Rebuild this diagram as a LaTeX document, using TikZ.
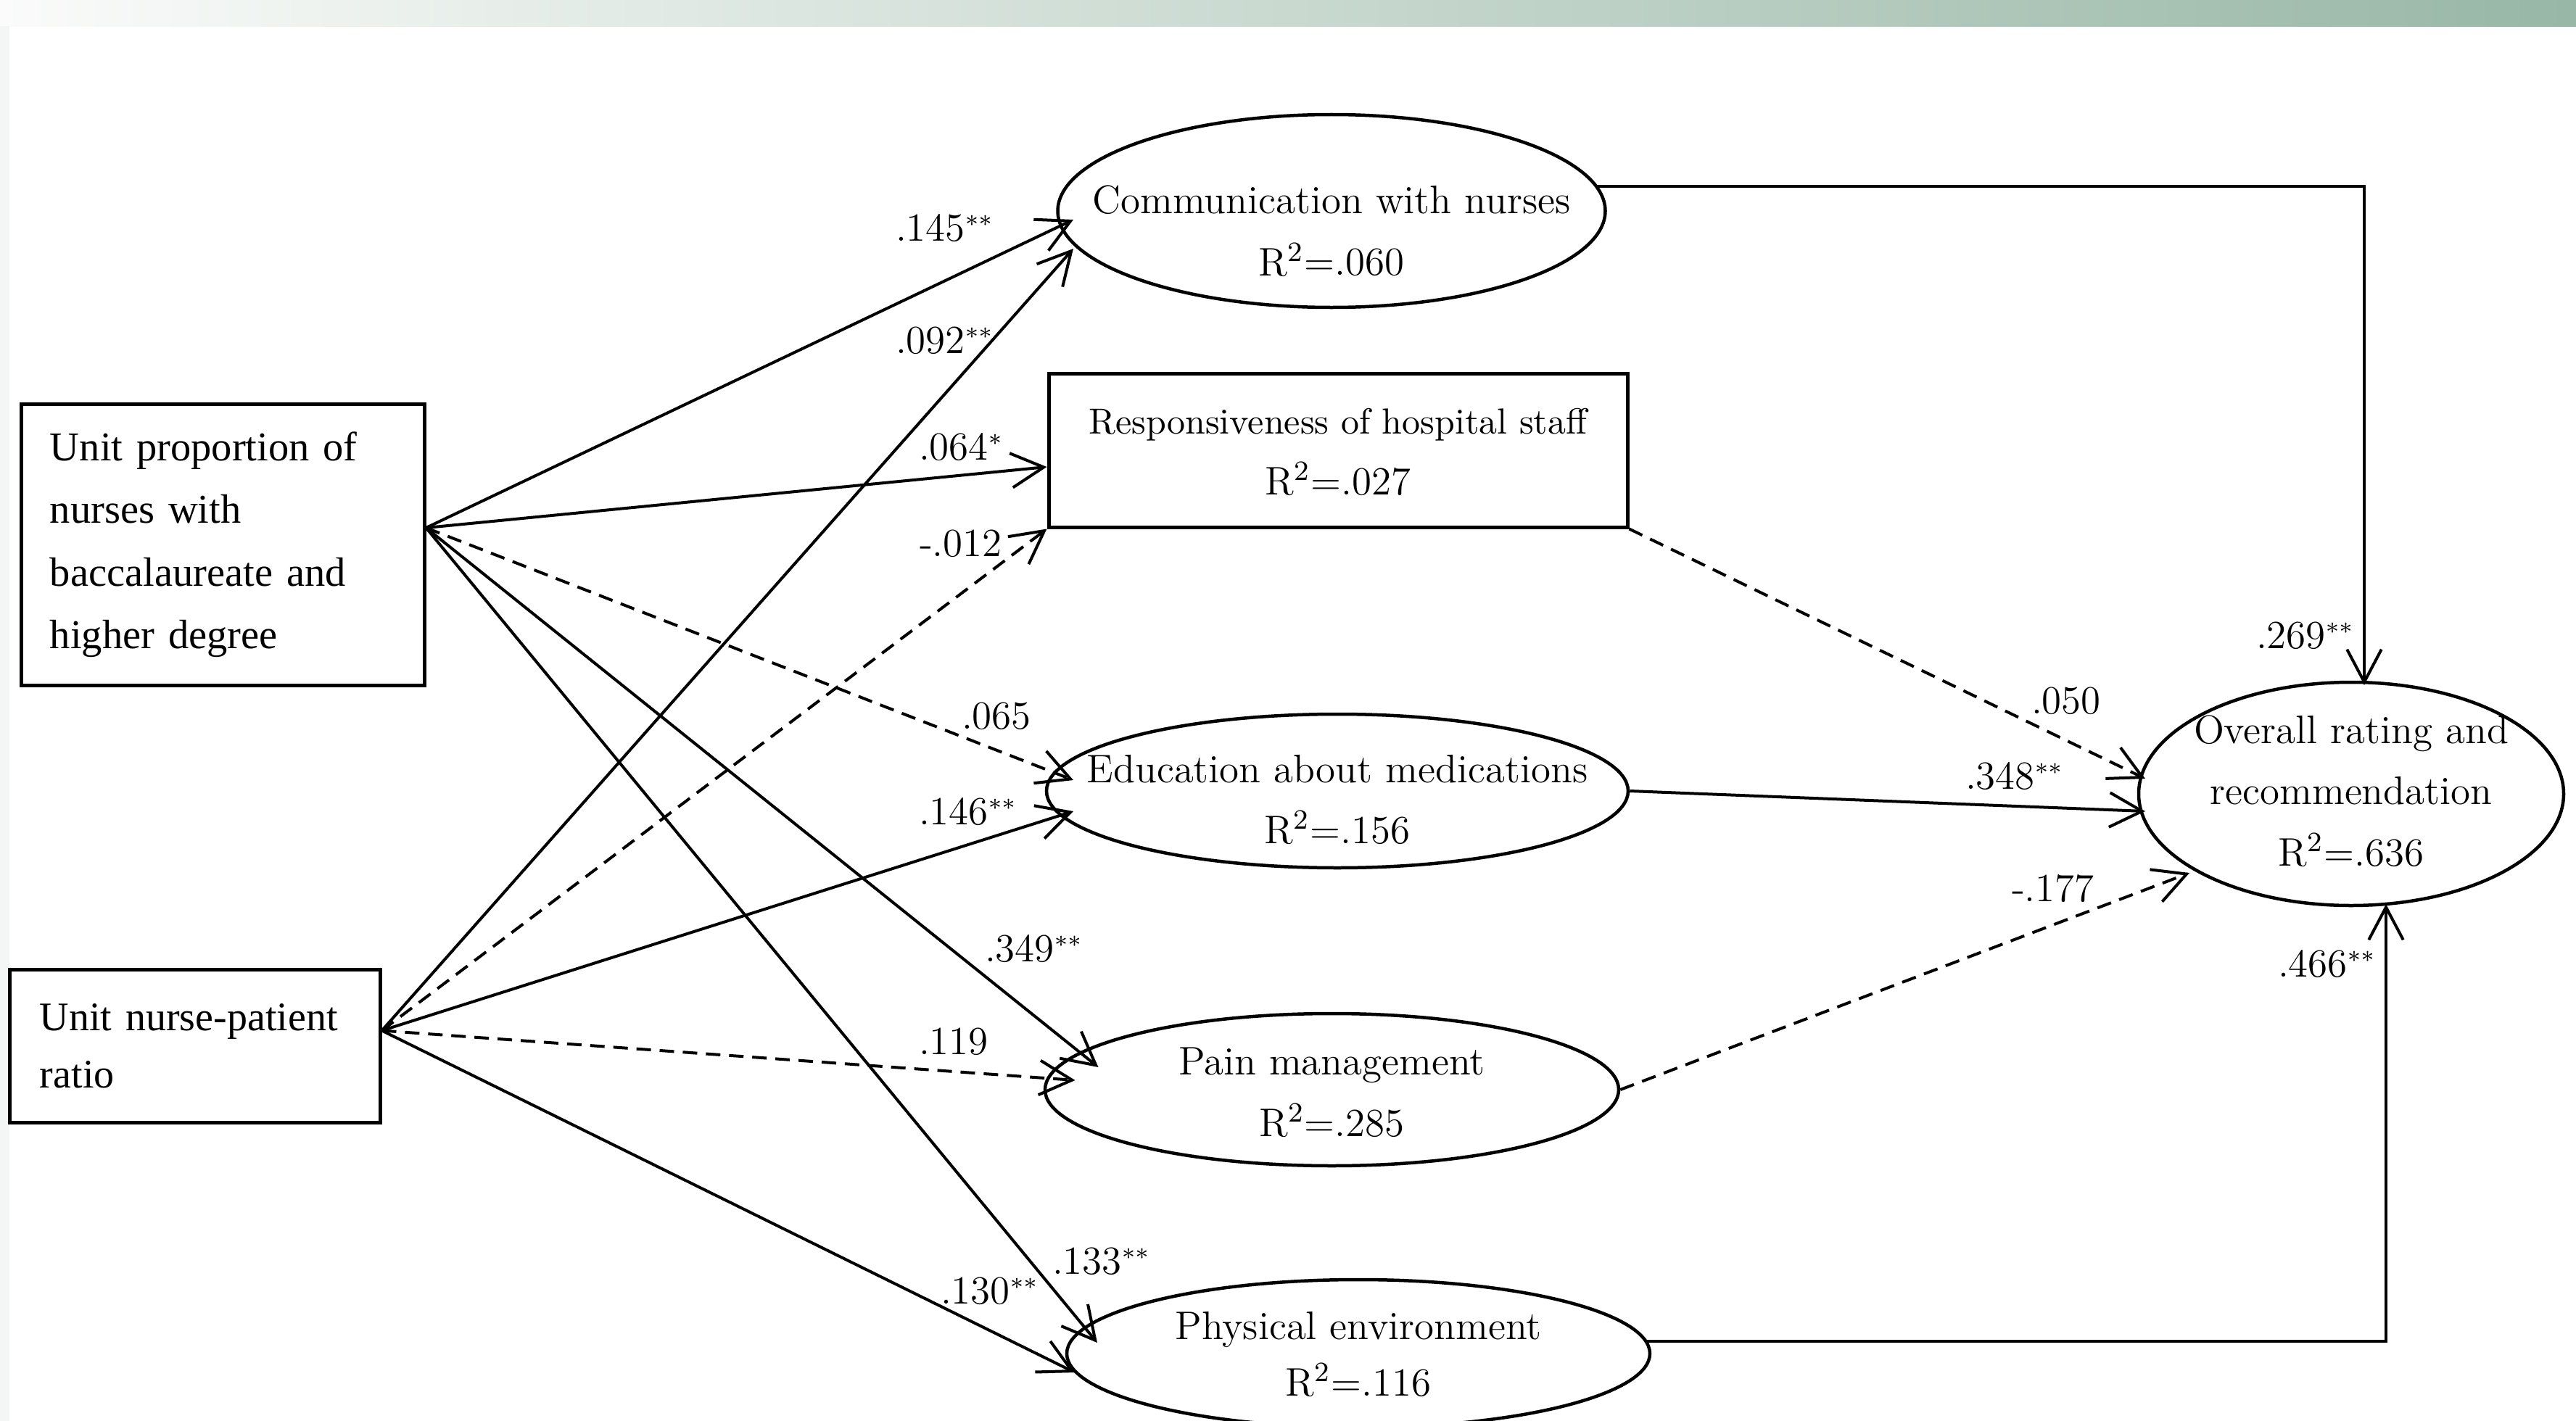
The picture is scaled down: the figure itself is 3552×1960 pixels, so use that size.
\documentclass[tikz,border=0pt]{standalone}
\usepackage{fontspec}
\newfontfamily\timesf{Liberation Serif}
\usetikzlibrary{arrows.meta,shapes.geometric,calc}
\definecolor{barL}{RGB}{250,251,250}
\definecolor{barR}{RGB}{152,183,166}
\definecolor{stripC}{RGB}{244,246,245}
\newcommand\intext[3]{\makebox[0pt]{\raisebox{#1}[0pt][0pt]{\fontsize{11}{#2}\selectfont\begin{tabular}[b]{@{}c@{}}#3\end{tabular}}}}
\newcommand\sig[1]{\raisebox{2.2pt}{\fontsize{6.5}{7}\selectfont #1}}
\begin{document}
\begin{tikzpicture}[x=0.2pt,y=-0.2pt,
  box/.style={draw,line width=1pt,rectangle},
  ell/.style={draw,line width=0.9pt,ellipse,inner sep=0pt},
  lab/.style={inner sep=0pt,anchor=base west,font=\fontsize{11}{13}\selectfont},
  arr/.style={line width=0.8pt,-{Straight Barb[length=9pt,width=9.5pt]}},
  dsh/.style={dash pattern=on 4pt off 2.4pt}]
\useasboundingbox (0,0) rectangle (3552,1960);
\fill[left color=barL,right color=barR] (0,0) rectangle (3552,36);
\fill[stripC] (0,36) rectangle (13,1960);

% exogenous boxes
\node[box,text width=95.4pt,inner xsep=7.8pt,inner ysep=0pt,minimum height=77.6pt,align=left,
  font=\timesf\fontsize{11.3}{17.3}\selectfont] (b1) at (307.5,751)
  {Unit proportion of\\ nurses with\\ baccalaureate and\\ higher degree};
\node[box,text width=85.6pt,inner xsep=8.2pt,inner ysep=0pt,minimum height=42.2pt,align=left,
  font=\timesf\fontsize{11.2}{15.8}\selectfont] (b2) at (269,1442.5)
  {Unit nurse-patient\\ ratio};

% mediators
\node[ell,minimum width=151pt,minimum height=53.2pt] (comm) at (1836,291)
  {\intext{-17.8pt}{17pt}{Communication with nurses\\ R\textsuperscript{2}=.060}};
\node[box,inner sep=0pt,minimum width=159.6pt,minimum height=42.4pt] (resp) at (1845,621)
  {\intext{-12.2pt}{16.8pt}{{\fontsize{10}{12}\selectfont Responsiveness of hospital staff}\\ R\textsuperscript{2}=.027}};
\node[ell,minimum width=160.4pt,minimum height=42.4pt] (edu) at (1844,1091)
  {\intext{-14.4pt}{16.8pt}{Education about medications\\ R\textsuperscript{2}=.156}};
\node[ell,minimum width=158.2pt,minimum height=42pt] (pain) at (1836.5,1503)
  {\intext{-12.8pt}{17pt}{Pain management\\ R\textsuperscript{2}=.285}};
\node[ell,minimum width=160.8pt,minimum height=40.8pt] (phys) at (1873,1867)
  {\intext{-11.6pt}{15.6pt}{Physical environment\\ R\textsuperscript{2}=.116}};

% outcome
\node[ell,minimum width=117.2pt,minimum height=61.6pt] (over) at (3242,1095)
  {\intext{-19.8pt}{16.9pt}{Overall rating and\\ recommendation\\ R\textsuperscript{2}=.636}};

% sources
\coordinate (s1) at ($(b1.east)+(0,-23)$);
\coordinate (s2) at ($(b2.east)+(0,-21)$);

% from box 1
\draw[arr] (s1) -- ($(comm.center)+(-356,12)$);
\draw[arr] (s1) -- ($(resp.west)+(0,23)$);
\draw[arr,dsh] (s1) -- ($(edu.center)+(-364,-15)$);
\draw[arr] (s1) -- ($(pain.center)+(-322,-31)$);
\draw[arr] (s1) -- ($(phys.center)+(-360,-15)$);

% from box 2
\draw[arr] (s2) -- ($(comm.center)+(-356,52)$);
\draw[arr,dsh] (s2) -- (resp.south west);
\draw[arr] (s2) -- ($(edu.center)+(-364,28)$);
\draw[arr,dsh] (s2) -- ($(pain.center)+(-354,-13)$);
\draw[arr] (s2) -- ($(phys.center)+(-391,26)$);

% to outcome
\draw[arr] ($(comm.center)+(364,-34)$) -| ($(over.center)+(18,-150)$);
\draw[arr,dsh] (resp.south east) -- ($(over.center)+(-284,-21)$);
\draw[arr] (edu.east) -- ($(over.center)+(-284,24)$);
\draw[arr,dsh] (pain.east) -- ($(over.center)+(-223,109)$);
\draw[arr] ($(phys.center)+(398,-17)$) -| ($(over.center)+(48,152)$);

% coefficients
\node[lab] (l145) at (1234,332) {.145\sig{**}};
\node[lab] (l092) at (1234,487) {.092\sig{**}};
\node[lab] (l064) at (1266,634) {.064\sig{*}};
\node[lab] (l012) at (1267,767) {-.012};
\node[lab] (l065) at (1325,1005) {.065};
\node[lab] (l146) at (1266,1137) {.146\sig{**}};
\node[lab] (l349) at (1357,1326) {.349\sig{**}};
\node[lab] (l119) at (1266,1454) {.119};
\node[lab] (l133) at (1450,1757) {.133\sig{**}};
\node[lab] (l130) at (1296,1798) {.130\sig{**}};
\node[lab] (l269) at (3110,894) {.269\sig{**}};
\node[lab] (l050) at (2800,984) {.050};
\node[lab] (l348) at (2709,1088) {.348\sig{**}};
\node[lab] (l177) at (2773,1243) {-.177};
\node[lab] (l466) at (3140,1347) {.466\sig{**}};
\end{tikzpicture}
\end{document}
